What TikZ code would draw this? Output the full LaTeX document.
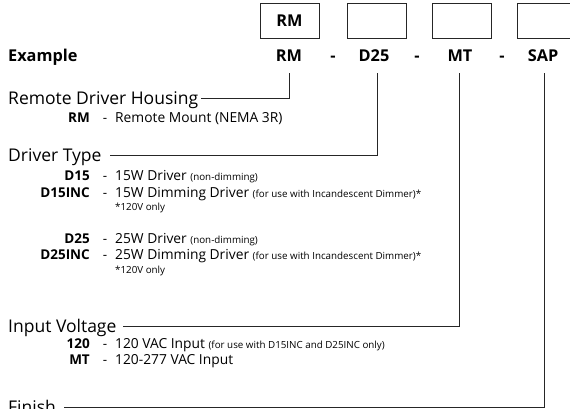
\documentclass[tikz,border=0pt]{standalone}
\usepackage{fontspec}
\setmainfont{Open Sans}
\newcommand{\sm}[1]{{\fontsize{9.8}{10}\selectfont #1}}
\tikzset{
  every node/.style={inner sep=0pt},
  boxst/.style={draw=black!85, line width=0.9pt, minimum width=59pt, minimum height=35pt, font=\bfseries\fontsize{16.3}{16}\selectfont},
  extext/.style={anchor=base, font=\bfseries\fontsize{16.3}{16}\selectfont},
  head/.style={anchor=base west, font=\fontsize{17.5}{17}\selectfont, text height=12.5pt, text depth=2pt},
  code/.style={anchor=base east, font=\bfseries\fontsize{13.5}{13}\selectfont},
  dsh/.style={anchor=base, font=\fontsize{13.5}{13}\selectfont},
  desc/.style={anchor=base west, font=\fontsize{13.8}{13}\selectfont},
  note/.style={anchor=base west, font=\fontsize{9.8}{10}\selectfont},
  conn/.style={draw=black!85, line width=0.9pt}
}
\begin{document}
\begin{tikzpicture}[x=1pt,y=-1pt]
\useasboundingbox (0,0) rectangle (570,408);
\clip (0,0) rectangle (570,408);
% boxes
\node[boxst] (b1) at (289.5,20.5) {RM};
\node[boxst] (b2) at (376.5,20.5) {};
\node[boxst] (b3) at (461.5,20.5) {};
\node[boxst] (b4) at (546.5,20.5) {};
% example row
\node[extext, anchor=base west] (ex) at (8,61) {Example};
\node[extext] (e1) at (289,61) {RM};
\node[extext] (s1) at (333,61) {-};
\node[extext] (e2) at (374,61) {D25};
\node[extext] (s2) at (417,61) {-};
\node[extext] (e3) at (460,61) {MT};
\node[extext] (s3) at (502,61) {-};
\node[extext] (e4) at (543,61) {SAP};
\coordinate (t1) at (289,73);
\coordinate (t2) at (377,73);
\coordinate (t3) at (459,73);
\coordinate (t4) at (544,73);
% headings
\node[head] (h1) at (8,104) {Remote Driver Housing};
\node[head] (h2) at (8,161) {Driver Type};
\node[head] (h3) at (8,332) {Input Voltage};
\node[head] (h4) at (8,413) {Finish};
\draw[conn] (t1) |- ([xshift=3pt]h1.east);
\draw[conn] (t2) |- ([xshift=8pt]h2.east);
\draw[conn] (t3) |- ([xshift=6pt]h3.east);
\draw[conn] (t4) |- ([xshift=8pt]h4.east);
% RM
\node[code] (c1) at (90,122) {RM};
\node[dsh] (m1) at (105,122) {-};
\node[desc] (d1) at (115,122) {Remote Mount (NEMA 3R)};
% driver types
\node[code] (c2) at (90,180) {D15};
\node[dsh] (m2) at (105,180) {-};
\node[desc] (d2) at (115,180) {15W Driver \sm{(non-dimming)}};
\node[code] (c3) at (90,197) {D15INC};
\node[dsh] (m3) at (105,197) {-};
\node[desc] (d3) at (115,197) {15W Dimming Driver \sm{(for use with Incandescent Dimmer)*}};
\node[note] (n3) at (115,210) {*120V only};
\node[code] (c4) at (90,243) {D25};
\node[dsh] (m4) at (105,243) {-};
\node[desc] (d4) at (115,243) {25W Driver \sm{(non-dimming)}};
\node[code] (c5) at (90,259) {D25INC};
\node[dsh] (m5) at (105,259) {-};
\node[desc] (d5) at (115,259) {25W Dimming Driver \sm{(for use with Incandescent Dimmer)*}};
\node[note] (n5) at (115,273) {*120V only};
% input voltage
\node[code] (c6) at (90,348) {120};
\node[dsh] (m6) at (105,348) {-};
\node[desc] (d6) at (115,348) {120 VAC Input \sm{(for use with D15INC and D25INC only)}};
\node[code] (c7) at (90,364) {MT};
\node[dsh] (m7) at (105,364) {-};
\node[desc] (d7) at (115,364) {120-277 VAC Input};
\end{tikzpicture}
\end{document}
